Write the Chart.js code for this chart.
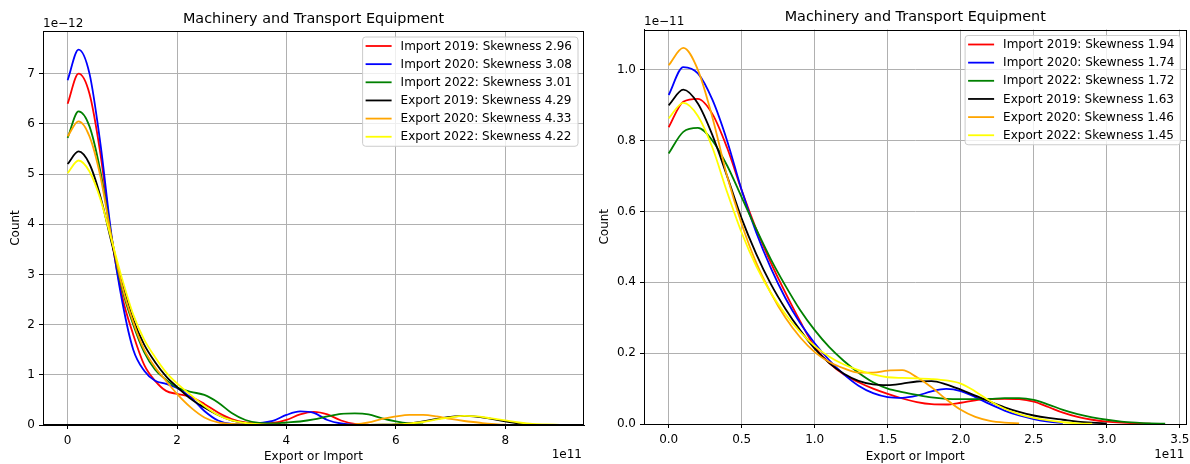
<!DOCTYPE html>
<html>
<head>
<meta charset="utf-8">
<script src="https://cdn.jsdelivr.net/npm/chart.js@4.4.0/dist/chart.umd.min.js"></script>
<style>
  html, body { margin: 0; padding: 0; background: #fff; }
  #wrap { position: relative; width: 1190px; height: 464px; }
  .pane { position: absolute; top: 0; width: 595px; height: 464px; }
</style>
</head>
<body>
<div id="wrap">
  <div class="pane" style="left:0"><canvas id="left" width="595" height="464"></canvas></div>
  <div class="pane" style="left:595px"><canvas id="right" width="595" height="464"></canvas></div>
</div>
<script>
// x in units of 1e11, density in units of 1e-12 (left) / 1e-11 (right)
var seriesNames = ['Import 2019', 'Import 2020', 'Import 2022', 'Export 2019', 'Export 2020', 'Export 2022'];
var seriesColors = ['#ff0000', '#0000ff', '#008000', '#000000', '#ffa500', '#ffff00'];

// left panel
var leftX = [0, 0.2, 0.4, 0.6, 0.8, 1.0, 1.2, 1.4, 1.6, 1.8, 2.0, 2.25, 2.5, 2.75, 3.0, 3.25, 3.5, 3.75, 4.0,
             4.25, 4.5, 4.75, 5.0, 5.25, 5.5, 5.75, 6.0, 6.25, 6.5, 6.75, 7.0, 7.25, 7.5, 7.75, 8.0, 8.25, 8.5, 8.75, 9.0];
var leftImp2019 = [6.40, 7.00, 6.60, 5.40, 3.75, 2.55, 1.80, 1.20, 0.88, 0.68, 0.62, 0.56, 0.42, 0.25, 0.12, 0.05, 0.03, 0.04, 0.10,
                   0.21, 0.26, 0.21, 0.09, 0.02, 0.005];
var leftImp2020 = [6.87, 7.48, 7.00, 5.60, 3.80, 2.45, 1.50, 1.08, 0.88, 0.82, 0.74, 0.55, 0.28, 0.09, 0.02, 0.01, 0.04, 0.08, 0.20,
                   0.27, 0.24, 0.10, 0.03, 0.005];
var leftImp2022 = [5.72, 6.25, 5.95, 5.05, 3.75, 2.70, 2.00, 1.45, 1.10, 0.90, 0.75, 0.66, 0.60, 0.45, 0.24, 0.10, 0.04, 0.03, 0.05,
                   0.07, 0.11, 0.17, 0.22, 0.23, 0.21, 0.13, 0.07, 0.03, 0.01];
var leftExp2019 = [5.20, 5.45, 5.20, 4.55, 3.65, 2.80, 2.10, 1.60, 1.25, 0.97, 0.76, 0.52, 0.35, 0.20, 0.09, 0.04, 0.015, 0.005, 0.002,
                   0.001, 0.001, 0.001, 0.001, 0.002, 0.003, 0.005, 0.01, 0.03, 0.07, 0.12, 0.16, 0.18, 0.16, 0.12, 0.07, 0.03, 0.01];
var leftExp2020 = [5.75, 6.05, 5.75, 4.95, 3.75, 2.75, 2.05, 1.50, 1.15, 0.88, 0.62, 0.35, 0.15, 0.05, 0.02, 0.01, 0.005, 0.002, 0.001,
                   0.001, 0.001, 0.002, 0.003, 0.01, 0.05, 0.12, 0.17, 0.20, 0.20, 0.17, 0.12, 0.08, 0.05, 0.02, 0.005];
var leftExp2022 = [5.02, 5.27, 5.05, 4.50, 3.70, 2.90, 2.20, 1.70, 1.35, 1.05, 0.83, 0.60, 0.38, 0.20, 0.09, 0.04, 0.015, 0.005, 0.002,
                   0.001, 0.001, 0.001, 0.001, 0.002, 0.003, 0.005, 0.01, 0.03, 0.06, 0.11, 0.15, 0.18, 0.17, 0.13, 0.09, 0.05, 0.02, 0.01, 0.003];
var leftSkew = ['2.96', '3.08', '3.01', '4.29', '4.33', '4.22'];
var leftXTicks = [0, 2, 4, 6, 8];
var leftYTicks = [0, 1, 2, 3, 4, 5, 6, 7];

// right panel
var rightX = [0, 0.1, 0.2, 0.3, 0.4, 0.5, 0.6, 0.7, 0.8, 0.9, 1.0, 1.1, 1.2, 1.3, 1.4, 1.5, 1.6, 1.7, 1.8, 1.9,
              2.0, 2.1, 2.2, 2.3, 2.4, 2.5, 2.6, 2.7, 2.8, 2.9, 3.0, 3.1, 3.2, 3.3, 3.4];
var rightImp2019 = [0.838, 0.91, 0.918, 0.875, 0.78, 0.66, 0.55, 0.455, 0.37, 0.29, 0.218, 0.172, 0.14, 0.118, 0.1, 0.085, 0.072,
                    0.062, 0.056, 0.055, 0.06, 0.067, 0.07, 0.071, 0.07, 0.063, 0.048, 0.032, 0.02, 0.012, 0.007, 0.004, 0.002, 0.001];
var rightImp2020 = [0.929, 1.008, 0.99, 0.915, 0.8, 0.66, 0.54, 0.44, 0.355, 0.285, 0.228, 0.18, 0.14, 0.108, 0.087, 0.076, 0.074,
                    0.08, 0.092, 0.099, 0.093, 0.076, 0.056, 0.038, 0.024, 0.014, 0.007, 0.003];
var rightImp2022 = [0.764, 0.825, 0.836, 0.8, 0.73, 0.64, 0.55, 0.465, 0.39, 0.322, 0.265, 0.217, 0.178, 0.145, 0.118, 0.1, 0.09,
                    0.082, 0.075, 0.071, 0.07, 0.07, 0.071, 0.073, 0.073, 0.068, 0.055, 0.04, 0.028, 0.019, 0.012, 0.007, 0.004, 0.002, 0.001];
var rightExp2019 = [0.9, 0.944, 0.905, 0.815, 0.7, 0.58, 0.48, 0.395, 0.325, 0.265, 0.213, 0.172, 0.142, 0.122, 0.112, 0.11, 0.114,
                    0.12, 0.121, 0.112, 0.097, 0.08, 0.063, 0.047, 0.034, 0.024, 0.017, 0.012, 0.007, 0.004, 0.002];
var rightExp2020 = [1.013, 1.062, 1.0, 0.865, 0.7, 0.565, 0.455, 0.37, 0.3, 0.245, 0.203, 0.175, 0.157, 0.145, 0.145, 0.151, 0.152,
                    0.132, 0.104, 0.07, 0.04, 0.02, 0.009, 0.004, 0.002];
var rightExp2022 = [0.863, 0.907, 0.87, 0.78, 0.655, 0.54, 0.445, 0.37, 0.31, 0.26, 0.22, 0.19, 0.168, 0.152, 0.14, 0.132, 0.13,
                    0.129, 0.127, 0.123, 0.114, 0.092, 0.065, 0.043, 0.028, 0.017, 0.01, 0.005, 0.002, 0.001];
var rightSkew = ['1.94', '1.74', '1.72', '1.63', '1.46', '1.45'];
var rightXTicks = [0, 0.5, 1.0, 1.5, 2.0, 2.5, 3.0, 3.5];
var rightYTicks = [0, 0.2, 0.4, 0.6, 0.8, 1.0];

var chartTitle = 'Machinery and Transport Equipment';
var xTitle = 'Export or Import';
var yTitle = 'Count';

var FONT = '"DejaVu Sans", sans-serif';

// draws frame, titles, offset texts and the matplotlib-like legend
var decorPlugin = {
    id: 'decor',
    afterDraw: function(chart) {
        var o = chart.options.plugins.decor;
        var a = chart.chartArea;
        var ctx = chart.ctx;
        ctx.save();

        // full box (top/right spines too)
        ctx.strokeStyle = '#000';
        ctx.lineWidth = 1;
        ctx.strokeRect(Math.round(a.left) + 0.5, Math.round(a.top) + 0.5,
                       Math.round(a.right - a.left) - 1, Math.round(a.bottom - a.top) - 1);

        ctx.fillStyle = '#000';
        ctx.textBaseline = 'alphabetic';

        // title
        ctx.font = '14.4px ' + FONT;
        ctx.textAlign = 'center';
        ctx.fillText(chartTitle, (a.left + a.right) / 2, a.top - 8.5);

        ctx.font = '12px ' + FONT;
        // y offset text
        ctx.textAlign = 'left';
        ctx.fillText(o.yOffset, a.left, a.top - 4.5);
        // x title
        ctx.textAlign = 'center';
        ctx.fillText(xTitle, (a.left + a.right) / 2, 459.5);
        // x offset text
        ctx.textAlign = 'right';
        ctx.fillText('1e11', a.right - 2, 458);
        // y title
        ctx.save();
        ctx.translate(o.yTitleX, (a.top + a.bottom) / 2);
        ctx.rotate(-Math.PI / 2);
        ctx.textAlign = 'center';
        ctx.fillText(yTitle, 0, 0);
        ctx.restore();

        // legend
        var labels = chart.data.datasets.map(function(d) { return d.label; });
        var maxW = 0;
        labels.forEach(function(t) { maxW = Math.max(maxW, ctx.measureText(t).width); });
        var rowH = 18.15;
        var boxW = 38.5 + maxW + 5.5;
        var boxH = 9.5 * 2 + rowH * (labels.length - 1) - 0.5;
        var bx = a.right - 6.5 - boxW;
        var by = a.top + 5.5;
        ctx.beginPath();
        ctx.roundRect(bx + 0.5, by + 0.5, boxW, boxH, 3);
        ctx.fillStyle = 'rgba(255,255,255,0.8)';
        ctx.fill();
        ctx.strokeStyle = '#cccccc';
        ctx.lineWidth = 1;
        ctx.stroke();
        ctx.textAlign = 'left';
        ctx.textBaseline = 'middle';
        chart.data.datasets.forEach(function(d, i) {
            var cy = by + 9.5 + rowH * i;
            ctx.strokeStyle = d.borderColor;
            ctx.lineWidth = 1.8;
            ctx.beginPath();
            ctx.moveTo(bx + 3.5, cy);
            ctx.lineTo(bx + 29.5, cy);
            ctx.stroke();
            ctx.fillStyle = '#000';
            ctx.fillText(d.label, bx + 38.5, cy + 0.5);
        });
        ctx.restore();
    }
};

function buildChart(id, p) {
    var datasets = p.series.map(function(vals, i) {
        return {
            label: seriesNames[i] + ': Skewness ' + p.skew[i],
            data: vals.map(function(v, j) { return { x: p.grid[j], y: v }; }),
            borderColor: seriesColors[i],
            backgroundColor: seriesColors[i],
            borderWidth: 1.8,
            pointRadius: 0,
            cubicInterpolationMode: 'monotone',
            fill: false,
            order: p.series.length - i
        };
    });

    var gridOpts = {
        color: '#b0b0b0',
        lineWidth: 1,
        drawTicks: true,
        tickLength: 4,
        tickColor: '#000',
        tickWidth: 1
    };

    return new Chart(document.getElementById(id), {
        type: 'line',
        data: { datasets: datasets },
        options: {
            responsive: false,
            animation: false,
            devicePixelRatio: 1,
            layout: { autoPadding: false, padding: p.padding },
            plugins: {
                legend: { display: false },
                title: { display: false },
                tooltip: { enabled: false },
                decor: { yOffset: p.yOffset, yTitleX: p.yTitleX }
            },
            scales: {
                x: {
                    type: 'linear',
                    min: p.xMin,
                    max: p.xMax,
                    grid: gridOpts,
                    border: { display: true, color: '#000', width: 1 },
                    ticks: {
                        color: '#000',
                        font: { family: FONT, size: 12 },
                        padding: 5,
                        maxRotation: 0,
                        autoSkip: false,
                        callback: function(v) { return v.toFixed(p.xDec); }
                    },
                    afterBuildTicks: function(s) { s.ticks = p.xTicks.map(function(v) { return { value: v }; }); },
                    afterFit: function(s) { s.height = p.xAxisH; s.paddingLeft = 0; s.paddingRight = 0; }
                },
                y: {
                    type: 'linear',
                    min: 0,
                    max: p.yMax,
                    grid: gridOpts,
                    border: { display: true, color: '#000', width: 1 },
                    ticks: {
                        color: '#000',
                        font: { family: FONT, size: 12 },
                        padding: 4,
                        autoSkip: false,
                        callback: function(v) { return v.toFixed(p.yDec); }
                    },
                    afterBuildTicks: function(s) { s.ticks = p.yTicks.map(function(v) { return { value: v }; }); },
                    afterFit: function(s) { s.width = p.yAxisW; s.paddingTop = 0; s.paddingBottom = 0; }
                }
            }
        },
        plugins: [decorPlugin]
    });
}

buildChart('left', {
    grid: leftX,
    series: [leftImp2019, leftImp2020, leftImp2022, leftExp2019, leftExp2020, leftExp2022],
    skew: leftSkew,
    xTicks: leftXTicks, yTicks: leftYTicks,
    xMin: -0.45, xMax: 9.44, yMax: 7.85,
    xDec: 0, yDec: 0,
    yAxisW: 43, xAxisH: 39,
    padding: { left: 0, top: 31, right: 11, bottom: 0 },
    yOffset: '1e\u221212',
    yTitleX: 19
});

buildChart('right', {
    grid: rightX,
    series: [rightImp2019, rightImp2020, rightImp2022, rightExp2019, rightExp2020, rightExp2022],
    skew: rightSkew,
    xTicks: rightXTicks, yTicks: rightYTicks,
    xMin: -0.169, xMax: 3.546, yMax: 1.114,
    xDec: 1, yDec: 1,
    yAxisW: 49, xAxisH: 40,
    padding: { left: 0, top: 29.5, right: 3.5, bottom: 0 },
    yOffset: '1e\u221211',
    yTitleX: 13
});
</script>
</body>
</html>
